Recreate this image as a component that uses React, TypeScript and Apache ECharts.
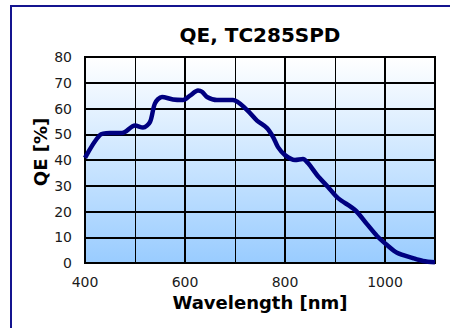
import React, { useEffect, useRef } from "react";
import * as echarts from "echarts";

const wavelengths = [400, 430, 450, 474, 500, 516, 530, 540, 554, 576, 596, 610, 626, 634, 644, 664, 696, 724, 744, 764, 776, 786, 800, 820, 836, 846, 864, 886, 906, 940, 964, 984, 1004, 1024, 1056, 1076, 1100];
const qe = [40.8, 49.7, 50.5, 50.5, 53.4, 52.6, 54.8, 62, 64.5, 63.5, 63.3, 65, 67, 66.5, 64.5, 63.3, 63.3, 59.4, 55.3, 52.4, 49, 45, 41.9, 40, 40.4, 38.8, 34.2, 29.5, 25.2, 20.6, 15.1, 10.5, 7, 4, 1.9, 0.8, 0.3];
const xLabels = [400, 600, 800, 1000];
const thickX = [600, 800, 1000];

const FONT = "DejaVu Sans, Verdana, sans-serif";

export default function App() {
  const ref = useRef<HTMLDivElement>(null);
  useEffect(() => {
    document.body.style.margin = "0";
    const chart = echarts.init(ref.current!, null, { renderer: "svg" });
    const data = wavelengths.map((w, i) => [w, qe[i]]);
    chart.setOption({
      animation: false,
      backgroundColor: "#ffffff",
      title: {
        text: "QE, TC285SPD",
        left: 255,
        textAlign: "center",
        top: 20,
        textStyle: { fontFamily: FONT, fontSize: 20, fontWeight: "bold", color: "#000" },
      },
      grid: {
        left: 85,
        right: 15,
        top: 57,
        bottom: 65,
        show: true,
        borderColor: "#000",
        borderWidth: 2,
        backgroundColor: new echarts.graphic.LinearGradient(0, 0, 0, 1, [
          { offset: 0, color: "#ffffff" },
          { offset: 1, color: "#99ccff" },
        ]),
      },
      xAxis: {
        type: "value",
        min: 400,
        max: 1100,
        interval: 100,
        name: "Wavelength [nm]",
        nameLocation: "middle",
        nameGap: 27,
        nameTextStyle: { fontFamily: FONT, fontSize: 18, fontWeight: "bold", color: "#000" },
        axisLine: { show: false },
        axisTick: { show: false },
        axisLabel: {
          margin: 12,
          fontFamily: FONT,
          fontSize: 14,
          color: "#1a1a1a",
          formatter: (v: number) => (xLabels.includes(v) ? String(v) : ""),
        },
        splitLine: { show: true, lineStyle: { color: "#000", width: 1 } },
      },
      yAxis: {
        type: "value",
        min: 0,
        max: 80,
        interval: 10,
        axisLine: { show: false },
        axisTick: { show: false },
        axisLabel: { margin: 13, fontFamily: FONT, fontSize: 14, color: "#1a1a1a" },
        splitLine: { show: true, lineStyle: { color: "#000", width: 2 } },
      },
      graphic: [
        { type: "line", shape: { x1: 10, y1: 6, x2: 450, y2: 6 }, style: { stroke: "#14148f", lineWidth: 2 } },
        { type: "line", shape: { x1: 11, y1: 5, x2: 11, y2: 328 }, style: { stroke: "#14148f", lineWidth: 2 } },
        {
          type: "text",
          x: 40,
          y: 152,
          rotation: Math.PI / 2,
          style: {
            text: "QE [%]",
            fontFamily: FONT,
            fontSize: 18,
            fontWeight: "bold",
            fill: "#000",
            align: "center",
            verticalAlign: "middle",
          },
        },
      ],
      series: [
        {
          type: "line",
          data: [],
          z: 1,
          markLine: {
            silent: true,
            symbol: "none",
            label: { show: false },
            lineStyle: { color: "#000", width: 2, type: "solid" },
            data: thickX.map((x) => ({ xAxis: x })),
          },
        },
        {
          type: "line",
          data,
          smooth: 0.3,
          showSymbol: false,
          lineStyle: { color: "#000080", width: 4.5 },
          z: 5,
        },
      ],
    });
    return () => chart.dispose();
  }, []);
  return <div ref={ref} style={{ width: 450, height: 328, position: "fixed", left: 0, top: 0 }} />;
}
